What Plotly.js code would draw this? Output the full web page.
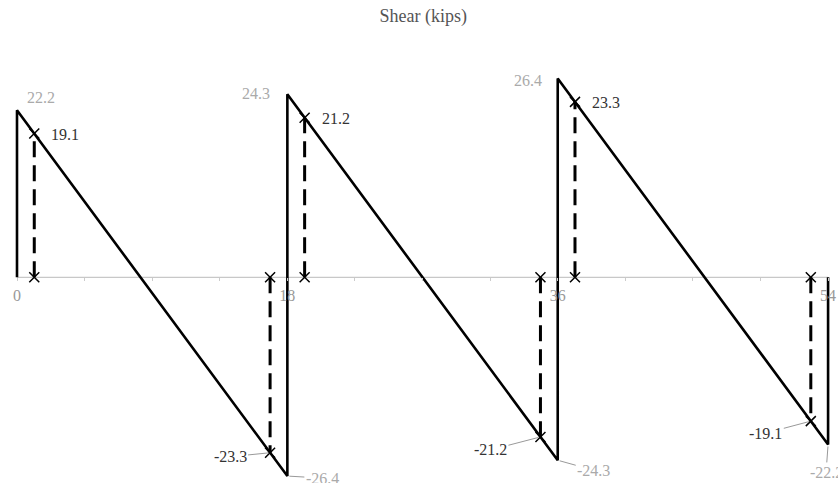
<!DOCTYPE html>
<html>
<head>
<meta charset="utf-8">
<script src="https://cdn.plot.ly/plotly-3.0.1.min.js"></script>
<style>html,body{margin:0;padding:0;background:#fff;}#chart{width:838px;height:483px;}</style>
</head>
<body>
<div id="chart"></div>
<script>
// Shear diagram outline (position along beam, ft; shear, kips)
const shearX = [0, 0, 18, 18, 36, 36, 54, 54];
const shearV = [0, 22.2, -26.4, 24.3, -24.3, 26.4, -22.2, 0];

// Peak (support) values
const peakX = [0, 18, 36];
const peakV = [22.2, 24.3, 26.4];
const troughX = [18, 36, 54];
const troughV = [-26.4, -24.3, -22.2];

// Critical sections (dashed)
const critPosX = [1.15, 19.15, 37.15];
const critPosV = [19.1, 21.2, 23.3];
const critNegX = [16.85, 34.85, 52.85];
const critNegV = [-23.3, -21.2, -19.1];

// Axis ticks
const tickVals = [0, 18, 36, 54];
const tickText = ['0', '18', '36', '54'];

const FONT = 'Liberation Serif';
const GRAY = '#aaaaaa';
const DARK = '#333333';

// dashed segments from axis to value
const allCritX = critPosX.concat(critNegX);
const allCritV = critPosV.concat(critNegV);
const dashX = [], dashY = [];
allCritX.forEach((x, i) => { dashX.push(x, x, null); dashY.push(0, allCritV[i], null); });
const mkX = [], mkY = [];
allCritX.forEach((x, i) => { mkX.push(x, x); mkY.push(0, allCritV[i]); });

const traces = [
  { x: [tickVals[0], tickVals[tickVals.length - 1]], y: [0, 0], mode: 'lines',
    line: { color: '#bbbbbb', width: 1 }, hoverinfo: 'skip' },
  { x: dashX, y: dashY, mode: 'lines', line: { color: '#000', width: 3, dash: '16px,8px' },
    connectgaps: false, hoverinfo: 'skip' },
  { x: shearX, y: shearV, mode: 'lines', line: { color: '#000', width: 2.6 }, hoverinfo: 'skip' },
  { x: mkX, y: mkY, mode: 'markers',
    marker: { symbol: 'x-thin', size: 10, color: '#000', line: { color: '#000', width: 1.5 } },
    hoverinfo: 'skip' }
];

const annotations = [];
const peakShift = [[24, 13], [-31, 1], [-30, -2]];
peakX.forEach((x, i) => annotations.push({
  x: x, y: peakV[i], xref: 'x', yref: 'y', text: peakV[i].toFixed(1), showarrow: false,
  xshift: peakShift[i][0], yshift: peakShift[i][1],
  font: { family: FONT, size: 16, color: GRAY }
}));
critPosX.forEach((x, i) => annotations.push({
  x: x, y: critPosV[i], xref: 'x', yref: 'y', text: critPosV[i].toFixed(1), showarrow: false,
  xanchor: 'left', xshift: 15, yshift: -1,
  font: { family: FONT, size: 16, color: DARK }
}));
const negOff = [[-40, 4], [-50, 13], [-45, 12]];
critNegX.forEach((x, i) => annotations.push({
  x: x, y: critNegV[i], xref: 'x', yref: 'y', text: critNegV[i].toFixed(1), showarrow: true,
  arrowhead: 0, arrowwidth: 1, arrowcolor: '#999', ax: negOff[i][0], ay: negOff[i][1], standoff: 2,
  font: { family: FONT, size: 16, color: DARK }
}));
const trOff = [[35, 2], [36, 10], [-2, 28]];
troughX.forEach((x, i) => annotations.push({
  x: x, y: troughV[i], xref: 'x', yref: 'y', text: troughV[i].toFixed(1), showarrow: true,
  arrowhead: 0, arrowwidth: 1, arrowcolor: '#999', ax: trOff[i][0], ay: trOff[i][1], standoff: 2,
  font: { family: FONT, size: 16, color: GRAY }
}));

const yMax = 36.83, yMin = -27.32;
const layout = {
  width: 838, height: 483,
  margin: { l: 0, r: 0, t: 0, b: 0 },
  paper_bgcolor: '#fff', plot_bgcolor: '#fff',
  showlegend: false,
  title: { text: 'Shear (kips)', x: 0.505, xanchor: 'center', y: 1 - 16 / 483, yanchor: 'middle',
    font: { family: FONT, size: 18, color: '#555' } },
  xaxis: {
    range: [-17 / 15.02, 821 / 15.02], domain: [0, 1],
    anchor: 'free', position: (0 - yMin) / (yMax - yMin),
    showgrid: false, zeroline: false, showline: false,
    tickmode: 'array', tickvals: tickVals, ticktext: tickText,
    ticks: 'outside', ticklen: 3, tickcolor: '#cccccc', tickwidth: 1,
    minor: { tickmode: 'linear', tick0: 0, dtick: 4.5, ticks: 'outside', ticklen: 3, tickcolor: '#cccccc' },
    tickfont: { family: FONT, size: 16, color: '#999' }
  },
  yaxis: { range: [yMin, yMax], visible: false, showgrid: false, zeroline: false },
  annotations: annotations
};

Plotly.newPlot('chart', traces, layout, { staticPlot: true, displayModeBar: false });
</script>
</body>
</html>
